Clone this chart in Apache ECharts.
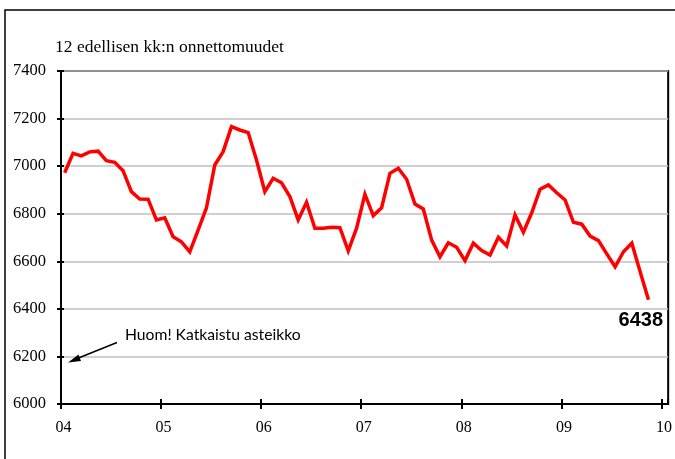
<!DOCTYPE html>
<html>
<head>
<meta charset="utf-8">
<script src="https://cdn.jsdelivr.net/npm/echarts@6/dist/echarts.min.js"></script>
<style>
html,body{margin:0;padding:0;background:#fff;}
#c{width:675px;height:459px;}
</style>
</head>
<body>
<div id="c"></div>
<script>
// Monthly 12-month rolling accident counts, Jan 2004 .. Nov 2009
const values = [
  6972, 7054, 7043, 7060, 7063, 7023, 7016, 6981, 6893, 6862, 6861, 6774,
  6783, 6703, 6682, 6640, 6731, 6825, 7005, 7061, 7166, 7152, 7141, 7026,
  6893, 6949, 6930, 6872, 6774, 6848, 6739, 6739, 6743, 6741, 6644, 6739,
  6882, 6792, 6825, 6970, 6991, 6945, 6841, 6820, 6689, 6619, 6678, 6659,
  6603, 6676, 6645, 6626, 6701, 6664, 6795, 6722, 6804, 6903, 6921, 6888,
  6858, 6764, 6756, 6706, 6687, 6631, 6577, 6640, 6676, 6556, 6438
];
const yearLabels = ['04', '05', '06', '07', '08', '09', '10'];
const yTicks = [6000, 6200, 6400, 6600, 6800, 7000, 7200, 7400];
const titleText = '12 edellisen kk:n onnettomuudet';
const noteText = 'Huom! Katkaistu asteikko';
const lastValueText = String(values[values.length - 1]);

const monthOffset = 0.44; // points sit slightly after the year tick
const seriesData = values.map((v, i) => [i + monthOffset, v]);

const chart = echarts.init(document.getElementById('c'), null, {renderer: 'canvas'});
const serif = '"Liberation Serif", "DejaVu Serif", serif';

const xBase = {
  type: 'value', min: 0, max: 72.8, interval: 12,
  splitLine: {show: false}
};
const yBase = {
  type: 'value', min: yTicks[0], max: yTicks[yTicks.length - 1], interval: 200
};

chart.setOption({
  animation: false,
  backgroundColor: '#fff',
  grid: {
    left: 61, right: 5, top: 71, bottom: 55,
    show: true, borderColor: '#000', borderWidth: 2, backgroundColor: 'transparent'
  },
  xAxis: [
    Object.assign({}, xBase, {
      position: 'bottom',
      axisLine: {show: true, onZero: false, lineStyle: {color: '#000', width: 2}},
      axisTick: {show: true, inside: false, length: 5, lineStyle: {color: '#000', width: 2}},
      axisLabel: {
        show: true, margin: 16, color: '#000', fontFamily: serif, fontSize: 16,
        showMaxLabel: false, padding: [0, 0, 0, 5],
        formatter: function (v) {
          const k = Math.round(v / 12);
          return Math.abs(v - k * 12) < 1e-6 ? yearLabels[k] : '';
        }
      }
    }),
    Object.assign({}, xBase, {
      position: 'bottom',
      axisLine: {show: false},
      axisTick: {show: true, inside: true, length: 5, lineStyle: {color: '#000', width: 2}},
      axisLabel: {show: false}
    })
  ],
  yAxis: [
    Object.assign({}, yBase, {
      position: 'left',
      axisLine: {show: true, onZero: false, lineStyle: {color: '#000', width: 2}},
      axisTick: {show: true, inside: false, length: 4, lineStyle: {color: '#000', width: 2}},
      axisLabel: {
        show: true, margin: 15, color: '#000', fontFamily: serif, fontSize: 16.5,
        formatter: function (v) { return String(v); }
      },
      splitLine: {show: true, lineStyle: {color: '#c0c0c0', width: 1.5}}
    }),
    Object.assign({}, yBase, {
      position: 'left',
      axisLine: {show: false},
      axisTick: {show: true, inside: true, length: 3, lineStyle: {color: '#000', width: 2}},
      axisLabel: {show: false},
      splitLine: {show: false}
    })
  ],
  series: [{
    type: 'line',
    xAxisIndex: 0, yAxisIndex: 0,
    data: seriesData,
    showSymbol: false,
    symbol: 'none',
    lineStyle: {color: '#ff0000', width: 3.5, join: 'miter'},
    z: 5
  }],
  graphic: [
    {
      type: 'rect', z: 100, silent: true,
      shape: {x: 5, y: 10, width: 700, height: 480},
      style: {fill: 'none', stroke: '#000', lineWidth: 1.5}
    },
    {
      type: 'text', z: 100, left: 55, top: 38,
      style: {text: titleText, fill: '#000', font: '17.5px ' + serif}
    },
    {
      type: 'text', z: 100, left: 125, top: 327,
      style: {text: noteText, fill: '#000', font: '15.7px Lato, "Liberation Sans", sans-serif'}
    },
    {
      type: 'line', z: 100,
      shape: {x1: 117, y1: 342.5, x2: 76, y2: 359},
      style: {stroke: '#000', lineWidth: 1.5}
    },
    {
      type: 'polygon', z: 100,
      shape: {points: [[68, 362.5], [78.5, 354.5], [81, 361]]},
      style: {fill: '#000'}
    },
    {
      type: 'text', z: 100, right: 12, top: 310,
      style: {text: lastValueText, fill: '#000', font: 'bold 20px "Liberation Sans", Arial, sans-serif'}
    }
  ]
});
</script>
</body>
</html>
